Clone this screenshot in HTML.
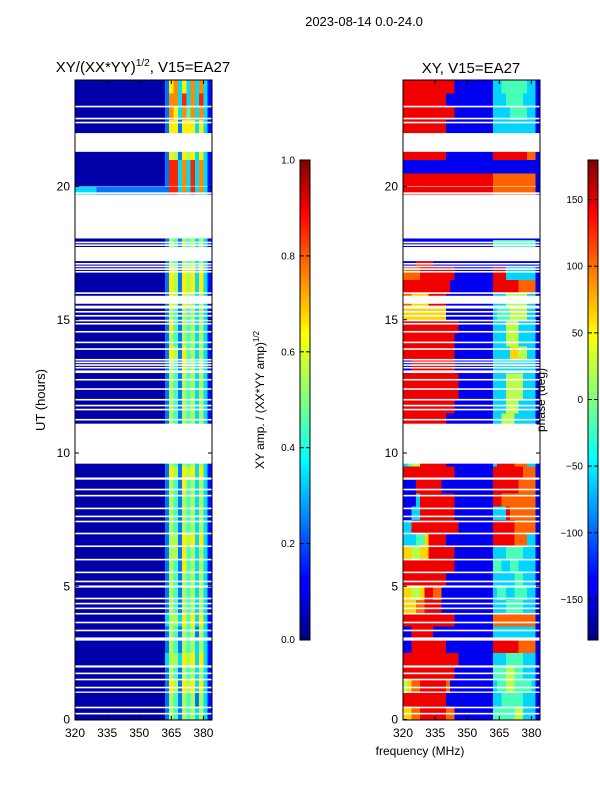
<!DOCTYPE html>
<html><head><meta charset="utf-8"><style>
body{margin:0;background:#fff;width:600px;height:800px;overflow:hidden}
svg{font-family:"Liberation Sans","DejaVu Sans",sans-serif}
</style></head><body>
<svg id="fig" width="600" height="800" xmlns="http://www.w3.org/2000/svg">
<text x="364" y="26" font-size="13" text-anchor="middle">2023-08-14 0.0-24.0</text>
<text x="143" y="72" font-size="15" text-anchor="middle">XY/(XX*YY)<tspan font-size="10" dy="-6">1/2</tspan><tspan dy="6">, V15=EA27</tspan></text>
<text x="471" y="73" font-size="15" text-anchor="middle">XY, V15=EA27</text>
<g id="ampPanel"></g>
<g id="phasePanel"></g>
<g id="axes"></g>
<text transform="translate(45,400) rotate(-90)" font-size="13" text-anchor="middle">UT (hours)</text>
<text x="420" y="755" font-size="12" text-anchor="middle">frequency (MHz)</text>
<defs>
<linearGradient id="jet" x1="0" y1="1" x2="0" y2="0">
<stop offset="0" stop-color="#000080"/><stop offset="0.11" stop-color="#0000ff"/><stop offset="0.125" stop-color="#0000ff"/><stop offset="0.34" stop-color="#00dcff"/><stop offset="0.375" stop-color="#00ffff" /><stop offset="0.5" stop-color="#80ff80"/><stop offset="0.64" stop-color="#ffff00"/><stop offset="0.66" stop-color="#ffe600"/><stop offset="0.89" stop-color="#ff0000"/><stop offset="1" stop-color="#800000"/>
</linearGradient></defs>
<rect x="300" y="160" width="10" height="480" fill="url(#jet)" stroke="#000" stroke-width="1"/>
<rect x="588" y="160" width="10" height="480" fill="url(#jet)" stroke="#000" stroke-width="1"/>
<g id="cbticks"></g>
<text transform="translate(264,400) rotate(-90)" font-size="12" text-anchor="middle">XY amp. / (XX*YY amp)<tspan font-size="8" dy="-5">1/2</tspan></text>
<text transform="translate(545,400) rotate(-90)" font-size="12" text-anchor="middle">phase (deg)</text>
</svg>
<script>
const freqEdges = [];
for (let f = 320; f <= 384; f += 2) freqEdges.push(f);
const rowHours = 0.5;
const ampLeft = "000000000000000000000";
const ampRight = ["25425453531","25425452531","26526563631","25425453531","35536563631","25425453531","25425452531","35536463631","25425453531","25425453531","25425453531","25426453531","25526453531","25526563631","25425453531","25425453531","25425453531","25426453531","26526563631","25425453531","25425453531","25425453531","25425453531","25425453531","25425453531","25425453531","25426453531","26526453531","25425453531","26425453531","25425453531","26526553531","26526563631","26526563631","25425453531","25425453531","25425453531","25425453531","25425453531","28837383731","28837383731","28837383731","26526563631","27637373731","26626663631","27637473731","27738373831","26736373731"];
const ampLeftOverride = {39:"333332222222222222222"};
const phaseRows = [
["667788888877111","111111","44444553331"],["888888888811111","111111","33444443331"],["567788888871111","111111","34455444431"],["888888888888111","111111","44455443331"],
["888888888888811","111111","33344443331"],["118888888811111","111111","88888877771"],["118888811111111","111111","33333333331"],["888888888888111","111111","77777777771"],
["666778888111111","111111","33344443331"],["665568877111111","111111","34433444331"],["888888888811111","111111","33333443331"],["888888888888111","111111","44334433331"],
["665566888888111","111111","33344443331"],["333446888811111","111111","88888777331"],["338888888888811","111111","88888777771"],["113388888888111","111111","33387777771"],
["111388888888111","111111","88777777771"],["111888888111111","111111","88888877771"],["888888888888111","111111","88888887771"],["345588888811111","111111","38888777331"],
["888888888888111","111111","33333333331"],["888888888888111","111111","33333333331"],["888888888811111","111111","33555333331"],["888888888888111","111111","33355533331"],
["888888888888811","111111","33355553331"],["888888888888811","111111","33355553331"],["118888888888111","111111","33333333331"],["888888888888111","111111","33336655331"],
["888888888888111","111111","33355533331"],["888888888888811","111111","33355533331"],["666666666611111","111111","34445555331"],["776666888811111","111111","33355555331"],
["888888888881111","111111","88888877771"],["777788888888111","111111","88833333331"],["111888811111111","111111","11111111111"],["111111111111111","111111","44444444441"],
["111111111111111","111111","11111111111"],["111111111111111","111111","11111111111"],["111111111111111","111111","11111111111"],["888888888888888","888888","77777777771"],
["888888888888888","888888","77777777771"],["111111111111111","111111","11111111111"],["888888888811111","111111","88888888771"],["118888811111111","111111","88833333331"],
["888888888811111","111111","33333333331"],["888888888888111","111111","33334444331"],["888888888811111","111111","33344443331"],["888888888888111","111111","33444444331"]];
const flagRanges = [[21.3,22.0],[18.05,19.7],[17.2,17.7],[15.6,15.9],[13.0,13.1],[9.6,11.1],[9.0,9.08],[4.95,5.03],[2.96,3.08],[1.95,2.03],[1.0,1.05],[20.0,20.02]];
const flagLines = [23.0,22.55,22.4,21.97,21.57,19.75,17.9,17.8,17.7,17.1,17.0,16.9,16.8,16.0,15.5,15.45,15.3,15.15,14.97,14.85,14.55,14.15,13.9,13.5,13.4,13.3,13.2,12.75,12.4,12.0,11.78,11.63,11.25,8.63,8.4,7.92,7.62,7.43,6.98,6.5,6.0,5.52,5.18,4.54,4.35,4.17,3.97,3.64,3.34,1.73,1.5,1.2,0.45,0.22];
const yTicks = [0,5,10,15,20];
const xTicks = [320,335,350,365,380];
const ampTicks = ["0.0","0.2","0.4","0.6","0.8","1.0"];
const phaseTicks = [-150,-100,-50,0,50,100,150];

const NS="http://www.w3.org/2000/svg";
const Y = t => 719.5 - t*26.65;
const panels = [{x0:75, g:'ampPanel'},{x0:403, g:'phasePanel'}];
const X = (x0,f) => x0 + (f-320)*137/64;
function jet(v){v=Math.max(0,Math.min(1,v));
 const r=Math.min(4*v-1.5,-4*v+4.5),g=Math.min(4*v-0.5,-4*v+3.5),b=Math.min(4*v+0.5,-4*v+2.5);
 const c=x=>Math.round(255*Math.max(0,Math.min(1,x)));return `rgb(${c(r)},${c(g)},${c(b)})`;}
function mk(tag,attrs,parent){const e=document.createElementNS(NS,tag);for(const k in attrs)e.setAttribute(k,attrs[k]);parent.appendChild(e);return e;}
for(let p=0;p<2;p++){
 const g=document.getElementById(panels[p].g), x0=panels[p].x0;
 for(let i=0;i<ampRight.length;i++){
  const s = p===0 ? (ampLeftOverride[i]||ampLeft)+ampRight[i] : phaseRows[i].join('');
  for(let j=0;j<freqEdges.length-1;j++){
   const d=+s[j]; const v = p===0 ? 0.04 + d/10 : (d*40)/360;
   const xa=X(x0,freqEdges[j]), xb=X(x0,freqEdges[j+1]);
   const r=mk('rect',{x:xa,y:Y((i+1)*rowHours),width:xb-xa+0.3,height:26.65*rowHours+0.3,fill:jet(v),'shape-rendering':'crispEdges'},g);
   
   
  }
 }
 for(const [a,b] of flagRanges){const r=mk('rect',{x:x0,y:Y(b),width:137,height:Y(a)-Y(b),fill:'#fff'},g);
  
  }
 for(const t of flagLines){const r=mk('rect',{x:x0,y:Y(t)-0.8,width:137,height:1.6,fill:'#fff'},g);
  
  }
}
const ax=document.getElementById('axes');
for(const pn of panels){const x0=pn.x0;
 const fr=mk('rect',{x:x0,y:80,width:137,height:640,fill:'none',stroke:'#000','stroke-width':1},ax);
 
 
 for(const t of yTicks){const y=Y(t);
  mk('line',{x1:x0,x2:x0+4,y1:y,y2:y,stroke:'#000'},ax);mk('line',{x1:x0+137,x2:x0+133,y1:y,y2:y,stroke:'#000'},ax);
  const tx=mk('text',{x:x0-5,y:y+4,'font-size':12,'text-anchor':'end'},ax);tx.textContent=t;
  
  }
 for(const f of xTicks){const x=X(x0,f);
  mk('line',{x1:x,x2:x,y1:720,y2:716,stroke:'#000'},ax);mk('line',{x1:x,x2:x,y1:80,y2:84,stroke:'#000'},ax);
  const tx=mk('text',{x:x,y:737,'font-size':12,'text-anchor':'middle'},ax);tx.textContent=f;
  
  }
}
const cb=document.getElementById('cbticks');
ampTicks.forEach((s,i)=>{const y=639.5-i*95.9;mk('line',{x1:300,x2:304,y1:y,y2:y,stroke:'#000'},cb);mk('line',{x1:310,x2:306,y1:y,y2:y,stroke:'#000'},cb);
 const tx=mk('text',{x:295,y:y+3.5,'font-size':10,'text-anchor':'end'},cb);tx.textContent=s;
 
 });
phaseTicks.forEach(v=>{const y=399.5-v*1.333;mk('line',{x1:588,x2:592,y1:y,y2:y,stroke:'#000'},cb);mk('line',{x1:598,x2:594,y1:y,y2:y,stroke:'#000'},cb);
 const tx=mk('text',{x:583,y:y+3.5,'font-size':10,'text-anchor':'end'},cb);tx.textContent=v<0?'\u2212'+(-v):String(v);
 
 });
</script>
</body></html>
